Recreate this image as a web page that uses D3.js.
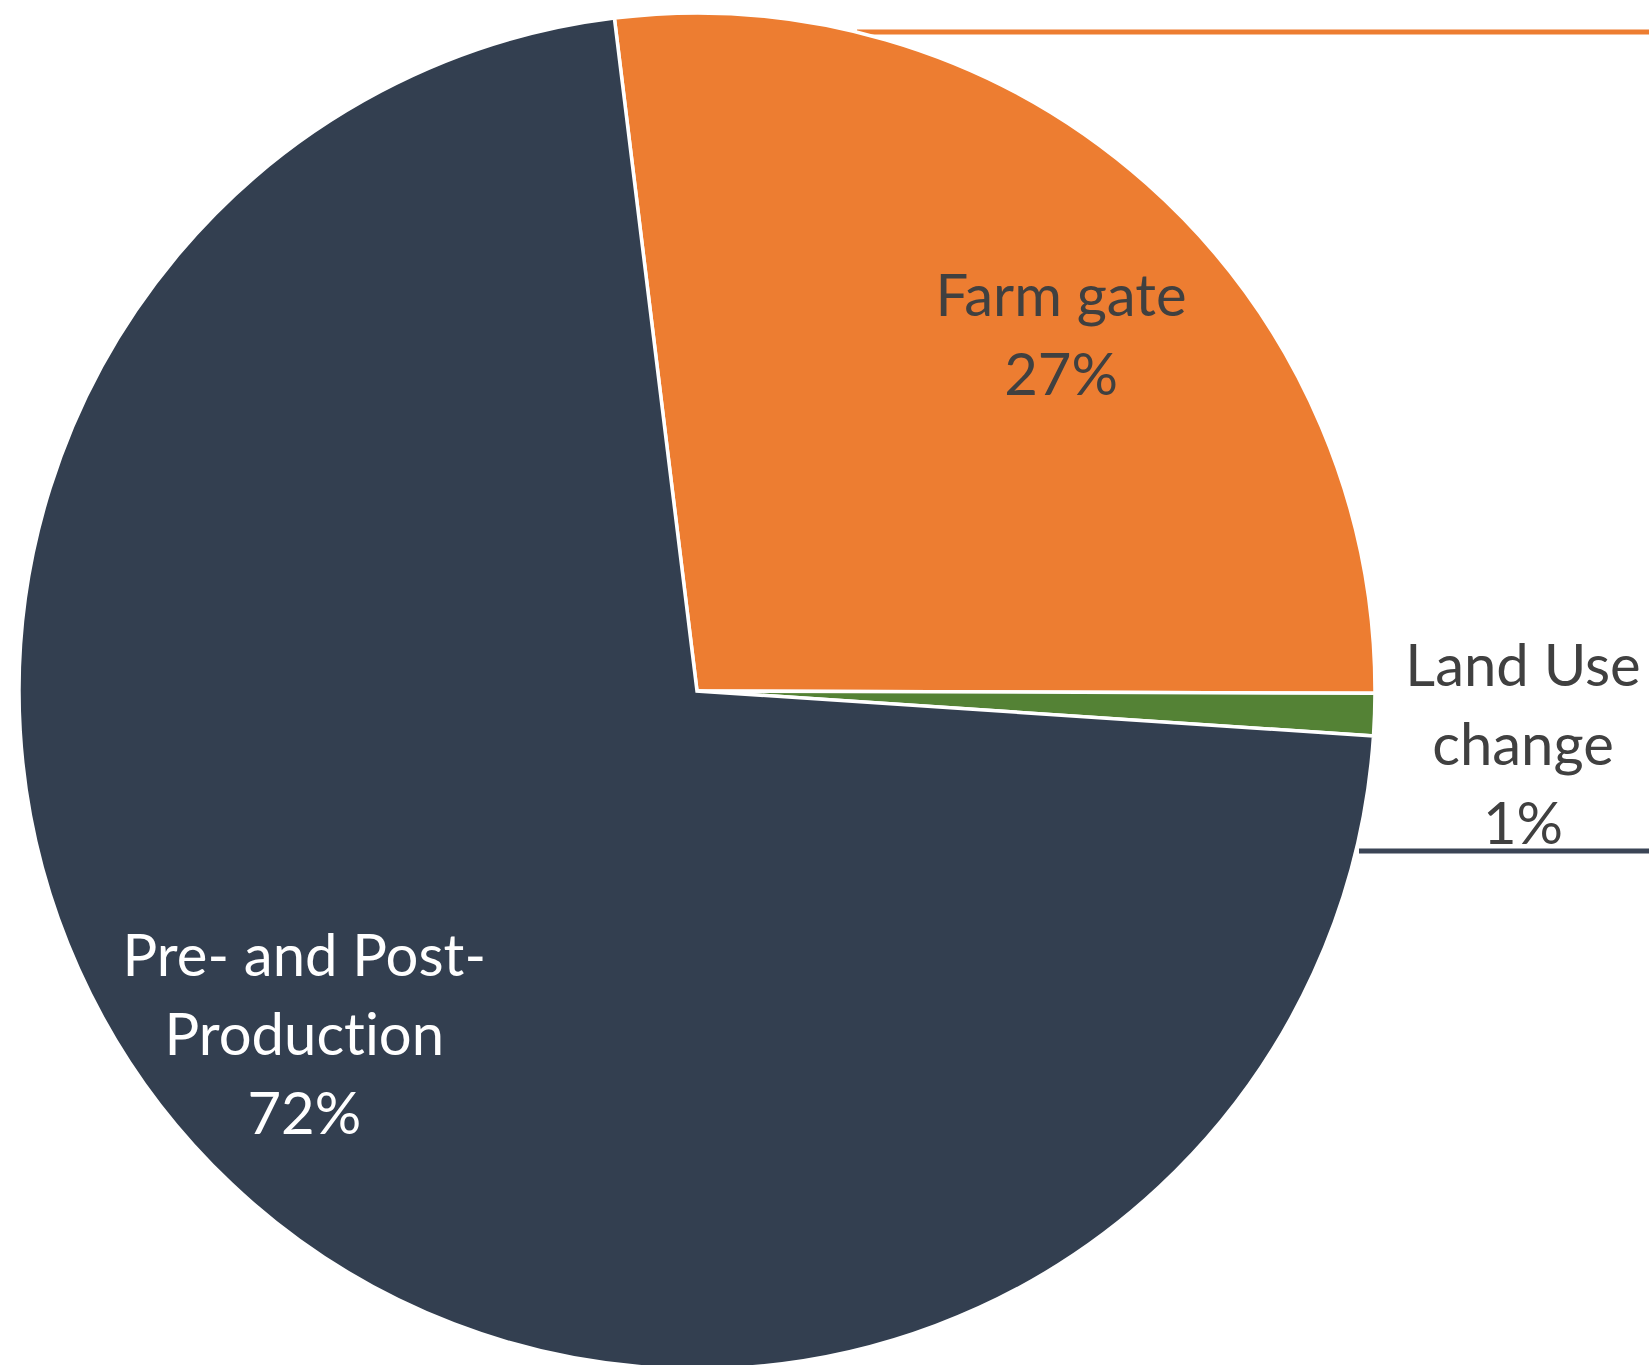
<!DOCTYPE html>
<html>
<head>
<meta charset="utf-8">
<script src="https://cdn.jsdelivr.net/npm/d3@7"></script>
<style>
  html, body { margin: 0; padding: 0; background: #ffffff; overflow: hidden; }
  svg { display: block; }
  text { font-variant-ligatures: none; font-feature-settings: "liga" 0; }
</style>
</head>
<body>
<svg id="chart" width="1649" height="1365"></svg>
<script>
// Emission shares by stage
const categories = ["Farm gate", "Land Use change", "Pre- and Post-Production"];
const values = [27, 1, 72];
const labelLines = [["Farm gate", "27%"], ["Land Use", "change", "1%"], ["Pre- and Post-", "Production", "72%"]];
const colors = ["#ED7D31", "#548235", "#333F50"];
const labelColors = ["#404040", "#404040", "#FFFFFF"];

const W = 1649, H = 1365;
const cx = 697, cy = 691, R = 678;
const startDeg = -7.0;
const fontSize = 58, lineGap = 79;

// label anchors in polar form: angle (deg, clockwise from top), distance as a share of R
const labelPolar = [[45.8, 0.749], [93.8, 1.221], [228.7, 0.771]];

const svg = d3.select("#chart");

// connector lines toward the secondary breakdown
const conn = svg.append("g");
conn.append("line")
  .attr("x1", 857).attr("x2", W).attr("y1", 32).attr("y2", 32)
  .attr("stroke", "#ED7D31").attr("stroke-width", 5);
conn.append("line")
  .attr("x1", 1359).attr("x2", W).attr("y1", 851).attr("y2", 851)
  .attr("stroke", "#3B4556").attr("stroke-width", 5);

const pie = d3.pie()
  .sort(null)
  .value(d => d)
  .startAngle(startDeg * Math.PI / 180)
  .endAngle((startDeg + 360) * Math.PI / 180);

const arc = d3.arc().innerRadius(0).outerRadius(R);
const arcs = pie(values);

const g = svg.append("g").attr("transform", `translate(${cx},${cy})`);
g.selectAll("path.slice")
  .data(arcs)
  .join("path")
  .attr("class", "slice")
  .attr("d", arc)
  .attr("fill", (d, i) => colors[i])
  .attr("stroke", "#ffffff")
  .attr("stroke-width", 3.5)
  .attr("stroke-linejoin", "miter");

// data labels
const labels = svg.append("g")
  .attr("font-family", "Lato, 'Open Sans', sans-serif")
  .attr("font-size", fontSize)
  .attr("text-anchor", "middle");

arcs.forEach((d, i) => {
  const [a, f] = labelPolar[i];
  const rad = a * Math.PI / 180;
  const lx = cx + Math.sin(rad) * f * R;
  const ly = cy - Math.cos(rad) * f * R;
  const lines = labelLines[i];
  const n = lines.length;
  const t = labels.append("text").attr("fill", labelColors[i]);
  lines.forEach((s, k) => {
    t.append("tspan")
      .attr("x", lx)
      .attr("y", ly + 19 + (k - (n - 1) / 2) * lineGap)
      .text(s);
  });
});
</script>
</body>
</html>
